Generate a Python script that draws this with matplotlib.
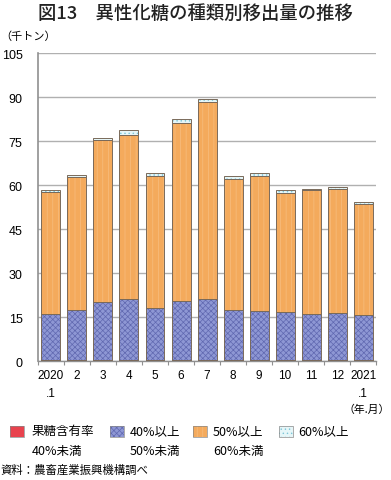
import matplotlib
matplotlib.use("Agg")
import matplotlib.pyplot as plt
from matplotlib.patches import Rectangle
import numpy as np

plt.rcParams['font.family'] = ['Noto Sans CJK JP', 'DejaVu Sans']
plt.rcParams['hatch.linewidth'] = 0.5

months = ['2020\n.1', '2', '3', '4', '5', '6', '7', '8', '9', '10', '11', '12', '2021\n.1']
s_lt40 = [0.3, 0.3, 0.3, 0.3, 0.3, 0.3, 0.3, 0.3, 0.3, 0.3, 0.3, 0.3, 0.3]
s_40_50 = [15.7, 17.2, 19.9, 20.7, 17.7, 20.3, 20.7, 17.1, 16.7, 16.5, 15.8, 15.9, 15.3]
s_50_60 = [41.5, 45.3, 55.3, 56.2, 45.1, 60.4, 67.2, 44.6, 46.1, 40.6, 42.3, 42.3, 37.8]
s_60 = [0.7, 0.6, 0.5, 1.7, 0.9, 1.5, 1.0, 1.1, 0.9, 0.8, 0.2, 0.8, 0.7]

legend_line1 = ['果糖含有率', '40%以上', '50%以上', '60%以上']
legend_line2 = ['40%未満', '50%未満', '60%未満', '']
face_colors = ['#E8434E', '#8E97D4', '#F4AA5C', '#E6F6F8']
hatch_colors = ['#E8434E', '#6068B0', '#F7BE80', '#7CC6D8']
hatches = [None, 'xxxxxx', '|||', '....']
edge_col = '#7A6A5A'

fig = plt.figure(figsize=(3.91, 4.81), dpi=100)
ax = fig.add_axes([0.097, 0.2474, 0.865, 0.6403])

x = np.arange(len(months))
w = 0.73
series = [s_lt40, s_40_50, s_50_60, s_60]
bottom = np.zeros(len(months))
for vals, fc, hc, h in zip(series, face_colors, hatch_colors, hatches):
    vals = np.array(vals)
    ax.bar(x, vals, w, bottom=bottom, color=fc, edgecolor=hc, hatch=h,
           linewidth=0, zorder=2)
    ax.bar(x, vals, w, bottom=bottom, fill=False, edgecolor=edge_col,
           linewidth=0.7, zorder=3)
    bottom += vals

ax.set_xlim(-0.5, 12.5)
ax.set_ylim(0, 105)
ax.set_yticks(np.arange(0, 106, 15))
ax.set_yticklabels([str(v) for v in range(0, 106, 15)], fontsize=9,
                   family=['Liberation Sans', 'DejaVu Sans'])
ax.yaxis.grid(True, color='#B0B0B0', linewidth=1.0, zorder=0)
ax.set_axisbelow(True)
ax.tick_params(axis='y', length=0, pad=11)

ax.set_xticks(x)
ax.set_xticklabels(months, fontsize=8.5, family=['Liberation Sans', 'DejaVu Sans'],
                   linespacing=1.6, va='top')
ax.tick_params(axis='x', length=0, pad=6)
ax.set_xticks(np.arange(-0.5, 13, 1), minor=True)
ax.tick_params(axis='x', which='minor', length=3, color='#909090', width=0.8)

for s in ['top', 'right']:
    ax.spines[s].set_visible(False)
ax.spines['left'].set_color('#909090')
ax.spines['left'].set_linewidth(1.2)
ax.spines['bottom'].set_color('#909090')
ax.spines['bottom'].set_linewidth(1.0)

fig.text(0.5, 0.971, '図13　異性化糖の種類別移出量の推移', ha='center', va='center',
         fontsize=13.2, fontweight='medium', color='#222222')
fig.text(0.0, 0.923, '（千トン）', ha='left', va='center', fontsize=8)
fig.text(0.997, 0.147, '（年.月）', ha='right', va='center', fontsize=7.8)

# legend
sq_x = [10, 110, 193, 279]
tx_x = [32, 130, 213, 298]
W, H = 391.0, 481.0
for i in range(4):
    r = Rectangle((sq_x[i] / W, 1 - 438 / H), 14 / W, 11 / H, transform=fig.transFigure,
                  facecolor=face_colors[i], edgecolor=hatch_colors[i], hatch=hatches[i],
                  linewidth=0)
    fig.add_artist(r)
    r2 = Rectangle((sq_x[i] / W, 1 - 438 / H), 14 / W, 11 / H, transform=fig.transFigure,
                   fill=False, edgecolor='#888888', linewidth=0.5)
    fig.add_artist(r2)
    fig.text(tx_x[i] / W, 1 - 432 / H, legend_line1[i], ha='left', va='center', fontsize=9)
    if legend_line2[i]:
        fig.text(tx_x[i] / W, 1 - 452 / H, legend_line2[i], ha='left', va='center', fontsize=9)

fig.text(0.0, 0.022, '資料：農畜産業振興機構調べ', ha='left', va='center', fontsize=8.2)

fig.savefig('out.png', dpi=100)
